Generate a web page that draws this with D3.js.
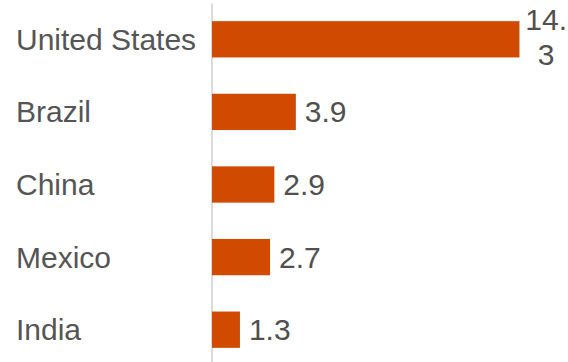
<html>
    <head>
        <meta charset="utf-8">
        <title>Horizontal Bar Chart</title>
        <style type="text/css">
            body { margin: 0; background: #fff; }
            text { font-family: "Liberation Sans", Arial, sans-serif; }
        </style>
        <script src="https://d3js.org/d3.v7.min.js"></script>
    </head>
    <body>
    	<svg width="568" height="362"></svg>
    	<script>
		var countries = ["United States", "Brazil", "China", "Mexico", "India"];
		var values = [14.3, 3.9, 2.9, 2.7, 1.3];

		var svg = d3.select("svg"),
		    width = +svg.attr("width"),
		    height = +svg.attr("height"),
		    left = 212;

		var data = countries.map((c, i) => ({country: c, value: values[i]}));

	    var yScale = d3.scaleBand()
	    			.domain(countries)
	    			.range([3, 366])
	    			.paddingInner(0.5)
	    			.paddingOuter(0.25);
	    var xScale = d3.scaleLinear()
	    			.domain([0, 15])
	    			.range([left, left + 15 * 21.5]);

	    // axis line only
	    var axis = svg.append("g")
	    		.attr("transform", `translate(${left - 0.5},0)`)
	    		.call(d3.axisLeft(yScale).tickSize(0).tickSizeOuter(0).tickFormat(""));
	    axis.select(".domain").attr("stroke", "#cfcfcf").attr("stroke-width", 1.5);

	    svg.append("g")
	    	.selectAll("rect")
	    	.data(data)
	    	.enter()
	    	.append("rect")
	    		.attr("x", xScale(0))
	    		.attr("y", d => yScale(d.country))
	    		.attr("width", d => xScale(d.value) - xScale(0))
	    		.attr("height", yScale.bandwidth())
	    		.attr("fill", "#d04a02");

	    // category labels
	    svg.append("g")
	    	.selectAll("text")
	    	.data(data)
	    	.enter()
	    	.append("text")
	    		.attr("x", 16)
	    		.attr("y", d => yScale(d.country) + yScale.bandwidth() / 2)
	    		.attr("dy", "0.35em")
	    		.style("font-size", "30px")
	    		.style("fill", "#555")
	    		.text(d => d.country);

	    // value labels, wrapped when they run past the edge
	    var vals = svg.append("g")
	    	.selectAll("text")
	    	.data(data)
	    	.enter()
	    	.append("text")
	    		.attr("x", d => xScale(d.value) + 9)
	    		.attr("y", d => yScale(d.country) + yScale.bandwidth() / 2)
	    		.attr("dy", "0.35em")
	    		.style("font-size", "30px")
	    		.style("fill", "#505050")
	    		.text(d => d.value);

	    vals.each(function(d) {
	    	var t = d3.select(this),
	    	    x0 = +t.attr("x");
	    	if (x0 + this.getComputedTextLength() <= width) return;
	    	var s = String(d.value),
	    	    k = s.indexOf(".") + 1,
	    	    cy = yScale(d.country) + yScale.bandwidth() / 2;
	    	t.text(null);
	    	var first = t.append("tspan").text(s.slice(0, k));
	    	var w = first.node().getComputedTextLength();
	    	var cx = Math.min(x0 + w / 2, width - w / 2 - 1);
	    	t.attr("text-anchor", "middle").attr("dy", null);
	    	first.attr("x", cx).attr("y", cy - 9.5);
	    	t.append("tspan").text(s.slice(k))
	    		.attr("x", cx).attr("y", cy + 25.5);
	    });
    	</script>
  </body>
</html>
